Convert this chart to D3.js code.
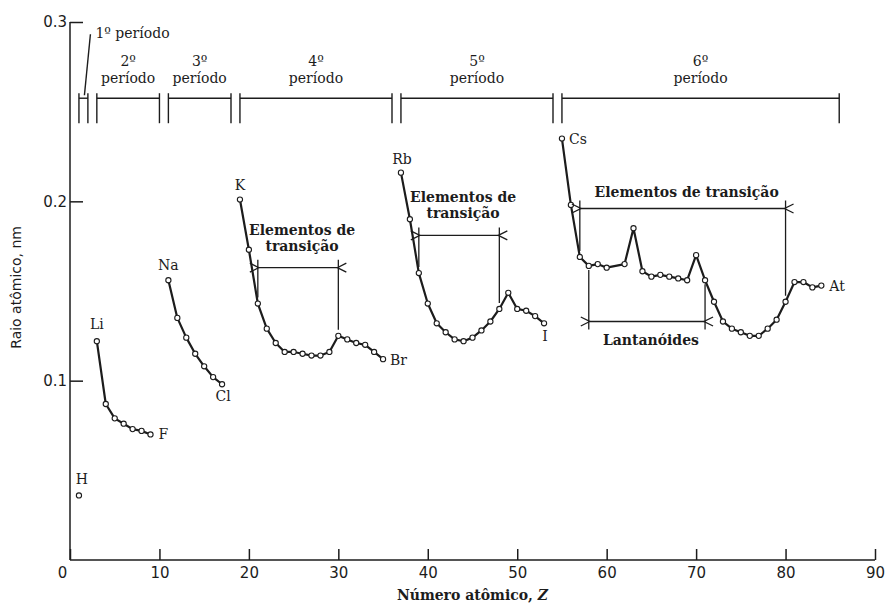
<!DOCTYPE html>
<html>
<head>
<meta charset="utf-8">
<script src="https://cdn.jsdelivr.net/npm/d3@7"></script>
<style>
  body { margin: 0; background: #fff; }
</style>
</head>
<body>
<div id="wrapper"></div>
<script>
// atomic radius (nm), one pair of arrays per period
const period1Z = [1]
const period1R = [0.036]
const period2Z = [3, 4, 5, 6, 7, 8, 9]
const period2R = [0.122, 0.087, 0.079, 0.076, 0.073, 0.072, 0.070]
const period3Z = [11, 12, 13, 14, 15, 16, 17]
const period3R = [0.156, 0.135, 0.124, 0.115, 0.108, 0.102, 0.098]
const period4Z = [19, 20, 21, 22, 23, 24, 25, 26, 27, 28, 29, 30, 31, 32, 33, 34, 35]
const period4R = [0.201, 0.173, 0.143, 0.129, 0.121, 0.116, 0.116, 0.115, 0.114, 0.114,
  0.116, 0.125, 0.123, 0.121, 0.120, 0.116, 0.112]
const period5Z = [37, 38, 39, 40, 41, 42, 43, 44, 45, 46, 47, 48, 49, 50, 51, 52, 53]
const period5R = [0.216, 0.190, 0.160, 0.143, 0.132, 0.127, 0.123, 0.122, 0.124, 0.128,
  0.133, 0.140, 0.149, 0.140, 0.139, 0.136, 0.132]
const period6Z = [55, 56, 57, 58, 59, 60, 62, 63, 64, 65, 66, 67, 68, 69, 70, 71, 72, 73,
  74, 75, 76, 77, 78, 79, 80, 81, 82, 83, 84]
const period6R = [0.235, 0.198, 0.169, 0.164, 0.165, 0.163, 0.165, 0.185, 0.161, 0.158,
  0.159, 0.158, 0.157, 0.156, 0.170, 0.156, 0.144, 0.133, 0.129, 0.127, 0.125, 0.125,
  0.129, 0.134, 0.144, 0.155, 0.155, 0.152, 0.153]

// element labels and the point (Z) they sit next to
const labelSymbols = ["H", "Li", "F", "Na", "Cl", "K", "Br", "Rb", "I", "Cs", "At"]
const labelZ = [1, 3, 9, 11, 17, 19, 35, 37, 53, 55, 84]

// period brackets along the top
const periodNames = ["1º", "2º", "3º", "4º", "5º", "6º"]
const periodStartZ = [1, 3, 11, 19, 37, 55]
const periodEndZ = [2, 10, 18, 36, 54, 86]

// transition / lanthanide spans
const spanTexts = [["Elementos de", "transição"], ["Elementos de", "transição"],
  ["Elementos de transição"], ["Lantanóides"]]
const spanFromZ = [21, 39, 57, 58]
const spanToZ = [30, 48, 80, 71]
const spanLevel = [0.163, 0.181, 0.196, 0.133]

const xTicks = [0, 10, 20, 30, 40, 50, 60, 70, 80, 90]
const yTicks = [0.1, 0.2, 0.3]

function drawChart() {
  const ink = "#1c1c1c"
  const serif = "'DejaVu Serif', serif"
  const sans = "'DejaVu Sans', sans-serif"

  const periods = [
    [period1Z, period1R], [period2Z, period2R], [period3Z, period3R],
    [period4Z, period4R], [period5Z, period5R], [period6Z, period6R],
  ].map(([zs, rs]) => zs.map((z, i) => ({ z: z, r: rs[i] })))

  const allPoints = periods.flat()
  const findPoint = z => allPoints.find(d => d.z === z)

  // 1. dimensions

  let dimensions = {
    width: 886,
    height: 606,
    margin: { top: 22, right: 11, bottom: 46, left: 70 },
  }
  dimensions.boundedWidth = dimensions.width - dimensions.margin.left - dimensions.margin.right
  dimensions.boundedHeight = dimensions.height - dimensions.margin.top - dimensions.margin.bottom

  // 2. canvas

  const wrapper = d3.select("#wrapper")
    .append("svg")
      .attr("width", dimensions.width)
      .attr("height", dimensions.height)
      .style("display", "block")

  const defs = wrapper.append("defs")
  defs.append("marker")
      .attr("id", "arrow")
      .attr("viewBox", "-1 -6 12 12")
      .attr("refX", 0)
      .attr("refY", 0)
      .attr("markerWidth", 12)
      .attr("markerHeight", 12)
      .attr("markerUnits", "userSpaceOnUse")
      .attr("orient", "auto-start-reverse")
    .append("path")
      .attr("d", "M9,-4.5L0,0L9,4.5")
      .attr("fill", "none")
      .attr("stroke", ink)
      .attr("stroke-width", 1.3)

  const bounds = wrapper.append("g")
    .attr("transform", `translate(${dimensions.margin.left},${dimensions.margin.top})`)

  // 3. scales

  const xScale = d3.scaleLinear()
    .domain([0, 90])
    .range([0, dimensions.boundedWidth])

  const yScale = d3.scaleLinear()
    .domain([0, 0.3])
    .range([dimensions.boundedHeight, 0])

  const xAccessor = d => xScale(d.z)
  const yAccessor = d => yScale(d.r)

  // 4. axes

  const xAxisGenerator = d3.axisBottom(xScale)
    .tickValues(xTicks)
    .tickSize(-11)
    .tickPadding(7)
    .tickFormat(d3.format("d"))

  bounds.append("g")
    .attr("transform", `translate(0,${dimensions.boundedHeight})`)
    .call(xAxisGenerator)
    .call(g => g.selectAll("line, path").attr("stroke", ink).attr("stroke-width", 1.5))
    .call(g => g.select(".domain").attr("d", `M0,0H${dimensions.boundedWidth}`))
    .call(g => g.selectAll("text")
      .attr("fill", ink)
      .style("font-family", sans)
      .style("font-size", "15px"))
    .call(g => g.selectAll(".tick").filter(d => d === 0).select("text").attr("dx", -8))

  const yAxisGenerator = d3.axisLeft(yScale)
    .tickValues(yTicks)
    .tickSize(-13)
    .tickPadding(3)
    .tickFormat(d3.format(".1f"))

  bounds.append("g")
    .call(yAxisGenerator)
    .call(g => g.selectAll("line, path").attr("stroke", ink).attr("stroke-width", 1.5))
    .call(g => g.select(".domain").attr("d", `M0,${dimensions.boundedHeight}V0`))
    .call(g => g.selectAll("text")
      .attr("fill", ink)
      .style("font-family", sans)
      .style("font-size", "15px"))

  wrapper.append("text")
    .attr("transform", `translate(21,${dimensions.margin.top + yScale(0.152)}) rotate(-90)`)
    .attr("text-anchor", "middle")
    .attr("fill", ink)
    .style("font-family", sans)
    .style("font-size", "14px")
    .text("Raio atômico, nm")

  const xTitle = wrapper.append("text")
    .attr("x", dimensions.margin.left + xScale(45))
    .attr("y", dimensions.height - 6)
    .attr("text-anchor", "middle")
    .attr("fill", ink)
    .style("font-family", serif)
    .style("font-size", "14px")
    .style("font-weight", "bold")
  xTitle.append("tspan").text("Número atômico, ")
  xTitle.append("tspan").style("font-style", "italic").text("Z")

  // 5. data

  const lineGenerator = d3.line()
    .x(xAccessor)
    .y(yAccessor)

  bounds.selectAll(".period-line")
    .data(periods.filter(p => p.length > 1))
    .join("path")
      .attr("class", "period-line")
      .attr("d", lineGenerator)
      .attr("fill", "none")
      .attr("stroke", ink)
      .attr("stroke-width", 2.2)
      .attr("stroke-linejoin", "round")

  bounds.selectAll(".dot")
    .data(allPoints)
    .join("circle")
      .attr("class", "dot")
      .attr("cx", xAccessor)
      .attr("cy", yAccessor)
      .attr("r", 2.6)
      .attr("fill", "#fff")
      .attr("stroke", ink)
      .attr("stroke-width", 1.1)

  // element symbols: offset (px) and anchor for each label
  const labelOffsets = {
    H: [3, -11, "middle"], Li: [0, -12, "middle"], F: [8, 5, "start"],
    Na: [0, -10, "middle"], Cl: [1, 17, "middle"], K: [0, -10, "middle"],
    Br: [7, 6, "start"], Rb: [1, -9, "middle"], I: [1, 18, "middle"],
    Cs: [7, 5, "start"], At: [8, 5, "start"],
  }

  labelSymbols.forEach((sym, i) => {
    const p = findPoint(labelZ[i])
    const [dx, dy, anchor] = labelOffsets[sym]
    bounds.append("text")
      .attr("x", xAccessor(p) + dx)
      .attr("y", yAccessor(p) + dy)
      .attr("text-anchor", anchor)
      .attr("fill", ink)
      .style("font-family", serif)
      .style("font-size", "14px")
      .text(sym)
  })

  // 6. period brackets

  const bracketY = yScale(0.2575)
  const bracket = bounds.append("g")
    .attr("stroke", ink)
    .attr("stroke-width", 1.4)
    .attr("fill", "none")

  periodStartZ.forEach((z0, i) => {
    const x0 = xScale(z0)
    const x1 = xScale(periodEndZ[i])
    bracket.append("line")
      .attr("x1", x0).attr("x2", x1)
      .attr("y1", bracketY).attr("y2", bracketY)
    ;[x0, x1].forEach(x => bracket.append("line")
      .attr("x1", x).attr("x2", x)
      .attr("y1", bracketY - 5).attr("y2", bracketY + 25))

    if (i === 0) {
      const mid = (x0 + x1) / 2
      bracket.append("line")
        .attr("x1", mid + 1).attr("x2", mid + 7)
        .attr("y1", bracketY - 3).attr("y2", bracketY - 64)
      bounds.append("text")
        .attr("x", mid + 12)
        .attr("y", bracketY - 60)
        .attr("fill", ink)
        .style("font-family", serif)
        .style("font-size", "14px")
        .text(`${periodNames[i]} período`)
    } else {
      const label = bounds.append("text")
        .attr("x", (x0 + x1) / 2)
        .attr("y", bracketY - 32)
        .attr("text-anchor", "middle")
        .attr("fill", ink)
        .style("font-family", serif)
        .style("font-size", "14px")
      label.append("tspan").text(periodNames[i])
      label.append("tspan")
        .attr("x", (x0 + x1) / 2)
        .attr("dy", 17)
        .text("período")
    }
  })

  // 7. transition / lanthanide spans

  spanFromZ.forEach((z0, i) => {
    const y = yScale(spanLevel[i])
    const p0 = findPoint(z0)
    const p1 = findPoint(spanToZ[i])
    const x0 = xAccessor(p0)
    const x1 = xAccessor(p1)
    const below = spanLevel[i] < p0.r
    const g = bounds.append("g")
      .attr("stroke", ink)
      .attr("stroke-width", 1.3)
      .attr("fill", "none")

    g.append("line")
      .attr("x1", x0 + 1).attr("x2", x1 - 1)
      .attr("y1", y).attr("y2", y)
      .attr("marker-start", "url(#arrow)")
      .attr("marker-end", "url(#arrow)")

    ;[p0, p1].forEach(p => {
      const py = yAccessor(p)
      g.append("line")
        .attr("x1", xAccessor(p)).attr("x2", xAccessor(p))
        .attr("y1", below ? py + 4 : y - 8)
        .attr("y2", below ? y + 8 : py - 6)
    })

    const lines = spanTexts[i]
    const text = bounds.append("text")
      .attr("text-anchor", "middle")
      .attr("fill", ink)
      .style("font-family", serif)
      .style("font-size", "14px")
      .style("font-weight", "bold")
    const cx = (x0 + x1) / 2 + 4
    const firstY = below ? y + 24 : y - (lines.length > 1 ? 17 + 16 : 12)
    lines.forEach((t, j) => text.append("tspan")
      .attr("x", cx)
      .attr("y", firstY + j * 16)
      .text(t))
  })
}

drawChart()
</script>
</body>
</html>
